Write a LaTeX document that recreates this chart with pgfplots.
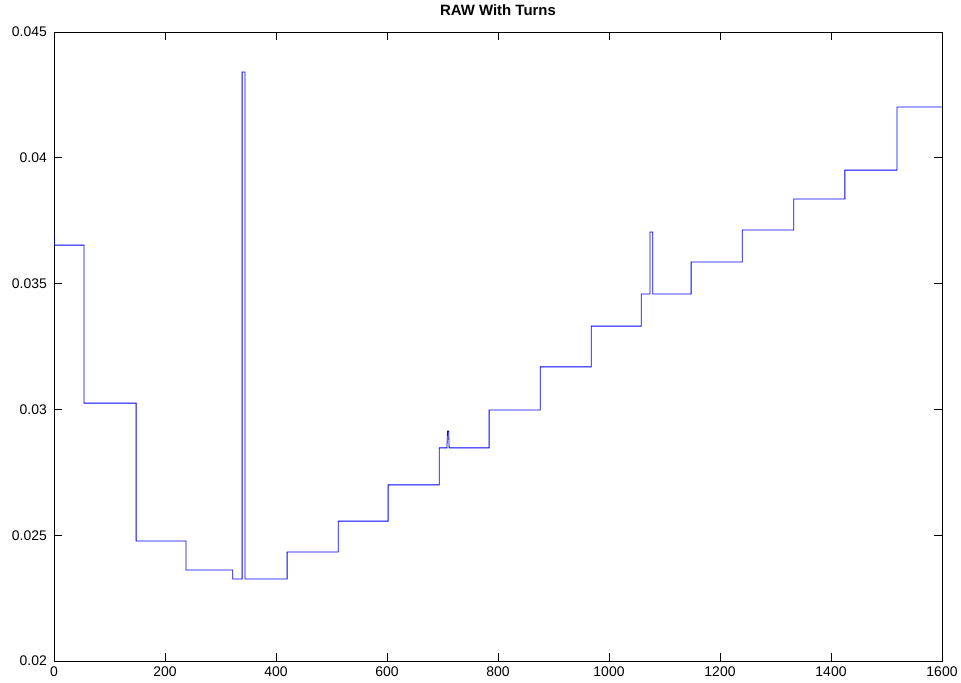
\documentclass[border=0pt]{standalone}
\usepackage{fontspec}
\setmainfont{Liberation Sans}
\usepackage{pgfplots}
\pgfplotsset{compat=1.18}
\begin{document}
\begin{tikzpicture}
\begin{axis}[
  name=ax,
  scale only axis,
  width=888bp, height=629bp,
  xmin=0, xmax=1600, ymin=0.02, ymax=0.045,
  xtick={0,200,...,1600},
  ytick={0.02,0.025,0.03,0.035,0.04,0.045},
  yticklabels={0.02,0.025,0.03,0.035,0.04,0.045},
  scaled y ticks=false,
  /pgf/number format/assume math mode=true,
  /pgf/number format/set thousands separator={},
  tick align=inside,
  major tick length=8bp,
  xtick pos=both, ytick pos=both,
  tick style={black, line width=0.6pt},
  axis line style={black, line width=0.8pt},
  ticklabel style={font=\fontsize{14}{16}\selectfont, inner sep=0pt},
  yticklabel style={xshift=-7bp},
  xticklabel style={yshift=-6bp},
  title={\textbf{RAW With Turns}},
  title style={font=\fontsize{15}{17}\selectfont, anchor=base, at={(0.5,1)}, yshift=11bp, inner sep=0pt},
]
\addplot[blue, line width=0.8pt, sharp plot] coordinates {
(0,0.0370)(0.5,0.03653)(54,0.03653)(54,0.03025)(148,0.03025)(148,0.02477)
(238,0.02477)(238,0.02362)(322,0.02362)(322,0.02326)(339,0.02326)(339,0.04341)
(344,0.04341)(344,0.02326)(420,0.02326)(420,0.02433)(512,0.02433)(512,0.02556)
(602,0.02556)(602,0.0270)(694,0.0270)(694,0.02847)(708,0.02847)(709,0.02914)
(711,0.02914)(712,0.02847)(784,0.02847)(784,0.02998)(876,0.02998)(876,0.03169)
(968,0.03169)(968,0.03331)(1058,0.03331)(1058,0.03459)(1074,0.03459)(1074,0.03705)
(1079,0.03705)(1079,0.03459)(1148,0.03459)(1148,0.03586)(1240,0.03586)(1240,0.03713)
(1333,0.03713)(1333,0.03836)(1425,0.03836)(1425,0.03951)(1519,0.03951)(1519,0.04202)
(1600,0.04202)
};
\end{axis}
\path ([shift={(-54bp,-22bp)}]ax.south west) rectangle ([shift={(19bp,32bp)}]ax.north east);
\end{tikzpicture}
\end{document}
